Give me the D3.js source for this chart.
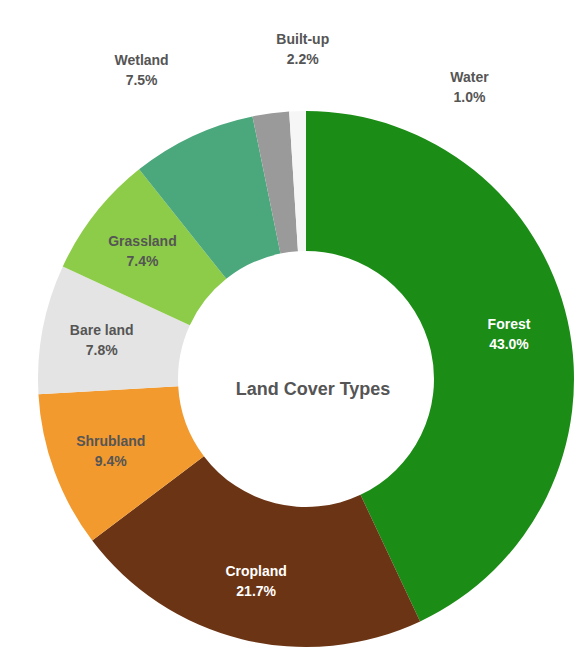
<!DOCTYPE html>
<html>
<head>
<meta charset="utf-8">
<script src="https://d3js.org/d3.v7.min.js"></script>
<style>
  body { margin: 0; background: #fff; }
  text { font-family: "Liberation Sans", Arial, sans-serif; }
</style>
</head>
<body>
<script>
// slice data, clockwise from 12 o'clock
const classes = ["Forest", "Cropland", "Shrubland", "Bare land", "Grassland", "Wetland", "Built-up", "Water"];
const shares  = [43.0, 21.7, 9.4, 7.8, 7.4, 7.5, 2.2, 1.0];
const colors  = ["#1b8c16", "#6b3414", "#f39a2e", "#e4e4e4", "#8dcc48", "#4ba77c", "#9a9a9a", "#f6f6f6"];
const outside = [false, false, false, false, false, true, true, true];
const darkBg  = [true, true, false, false, false, false, false, false];

const width = 587, height = 667;
const cx = 306, cy = 379, rOuter = 268, rInner = 128;

const svg = d3.select("body").append("svg")
  .attr("width", width)
  .attr("height", height);

const data = classes.map((c, i) => ({ name: c, value: shares[i], color: colors[i], out: outside[i], dark: darkBg[i] }));

const pie = d3.pie().value(d => d.value).sort(null);
const arc = d3.arc().innerRadius(rInner).outerRadius(rOuter);

const g = svg.append("g").attr("transform", `translate(${cx},${cy})`);
const arcs = pie(data);

g.selectAll("path")
  .data(arcs)
  .join("path")
  .attr("d", arc)
  .attr("fill", d => d.data.color);

// inside labels sit a bit outside the ring middle
const labelArc = d3.arc().innerRadius((rInner + rOuter) / 2 + 10).outerRadius((rInner + rOuter) / 2 + 10);

// small slices near the top: labels spread out so they don't collide
const outShift = { "Wetland": -3, "Built-up": 7, "Water": 31 };
const outR = { "Wetland": 350, "Built-up": 330, "Water": 335 };

arcs.forEach(a => {
  let x, y;
  if (a.data.out) {
    const mid = (a.startAngle + a.endAngle) / 2 + (outShift[a.data.name] || 0) * Math.PI / 180;
    const r = outR[a.data.name] || rOuter + 60;
    x = Math.sin(mid) * r;
    y = -Math.cos(mid) * r;
  } else {
    [x, y] = labelArc.centroid(a);
  }
  const t = g.append("text")
    .attr("text-anchor", "middle")
    .attr("font-size", 14)
    .attr("font-weight", "bold")
    .attr("fill", a.data.dark ? "#ffffff" : "#555555");
  t.append("tspan").attr("x", x).attr("y", y - 5).text(a.data.name);
  t.append("tspan").attr("x", x).attr("y", y + 15).text(d3.format(".1f")(a.data.value) + "%");
});

g.append("text")
  .attr("text-anchor", "middle")
  .attr("x", 7)
  .attr("y", 16)
  .attr("font-size", 18)
  .attr("font-weight", "bold")
  .attr("fill", "#555")
  .text("Land Cover Types");
</script>
</body>
</html>
